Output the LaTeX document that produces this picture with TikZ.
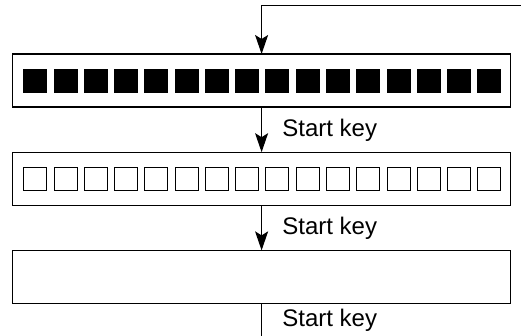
\documentclass[tikz,border=0pt]{standalone}
\usepackage{fontspec}
\setmainfont{Liberation Sans}
\usetikzlibrary{arrows.meta,positioning}
\begin{document}
\begin{tikzpicture}[x=0.5pt, y=-0.5pt,
  row/.style     = {draw, line width=0.6pt, minimum width=249pt, minimum height=26.5pt,
                    inner sep=0pt, outer sep=0pt},
  fullsq/.style  = {fill=black, minimum size=12pt, inner sep=0pt},
  emptysq/.style = {draw, line width=0.5pt, minimum size=11.5pt, inner sep=0pt},
  arr/.style     = {-{Stealth[length=9.5pt, width=6.5pt, inset=2pt]}, line width=0.6pt},
  lab/.style     = {font=\fontsize{12}{14}\selectfont, anchor=base west, inner sep=0pt}
]
\useasboundingbox (0,0) rectangle (521,336);
%% ---- rows ----------------------------------------------------------
\node[row] (full) at (261.6,80.5) {};
\node[row, below=22.6pt of full] (empty) {};
\node[row, below=22.6pt of empty] (blank) {};

\foreach \i in {0,...,15} {
  \node[fullsq]  (f\i) at ({35.3+30.27*\i},81.2) {};
  \node[emptysq] (e\i) at ({35.3+30.27*\i},178.6) {};
}

%% ---- connectors ----------------------------------------------------
\coordinate (src) at (521,5.5);
\coordinate (out) at (261.6,336);
\draw[arr] (src) -| (full.north);
\draw[arr] (full.south) -- (empty.north);
\draw[arr] (empty.south) -- (blank.north);
\draw[line width=0.6pt] (blank.south) -- (out);

\node[lab] (key1) at (282,136.5) {Start key};
\node[lab] (key2) at (282,235) {Start key};
\node[lab] (key3) at (282,327) {Start key};
\end{tikzpicture}
\end{document}
